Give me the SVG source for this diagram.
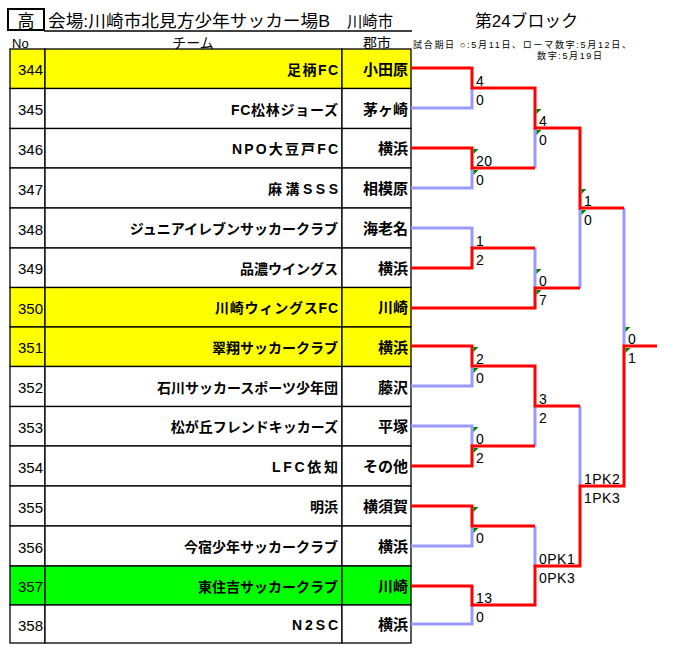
<svg xmlns="http://www.w3.org/2000/svg" width="683" height="663" viewBox="0 0 683 663">
<style>
text{font-family:"Liberation Sans","Noto Sans CJK JP",sans-serif;fill:#000}
.no{font-size:15px;text-anchor:end}
.nm{font-size:14px;font-weight:bold;text-anchor:end}
.ct{font-size:15px;font-weight:bold;text-anchor:end}
.sc{font-size:14px;letter-spacing:0.5px}
.hd{font-size:14px}
.cell{fill:#fff;stroke:#000;stroke-width:1.3}
.y{fill:#ffff00}
.g{fill:#00ff00}
.w{fill:none;stroke:#ff0000;stroke-width:3}
.l{fill:none;stroke:#9999ff;stroke-width:3}
.m{fill:#008000}
</style>
<rect width="683" height="663" fill="#fff"/>
<g id="header">
<rect x="8" y="9" width="36" height="21" fill="none" stroke="#000" stroke-width="2"/>
<text x="26" y="26.5" font-size="17" text-anchor="middle">高</text>
<text x="48" y="27" font-size="17" textLength="282" lengthAdjust="spacingAndGlyphs">会場:川崎市北見方少年サッカー場B</text>
<text x="347" y="27" font-size="16" textLength="46" lengthAdjust="spacingAndGlyphs">川崎市</text>
<line x1="44" y1="31" x2="412" y2="31" stroke="#000" stroke-width="1.5"/>
<text x="475" y="27" font-size="17" textLength="103" lengthAdjust="spacingAndGlyphs">第24ブロック</text>
<text x="12" y="48" font-size="13">No</text>
<text x="193" y="48" class="hd" text-anchor="middle">チーム</text>
<text x="377" y="48" class="hd" text-anchor="middle">郡市</text>
<text x="413" y="47.5" font-size="9" textLength="218" lengthAdjust="spacing">試合期日 ○:5月11日、ローマ数字:5月12日、</text>
<text x="537" y="58.5" font-size="9" textLength="65" lengthAdjust="spacing">数字:5月19日</text>
</g>
<g id="team-344"><rect x="10" y="49" width="35" height="39.5" class="cell y"/><rect x="45" y="49" width="297" height="39.5" class="cell y"/><rect x="342" y="49" width="69" height="39.5" class="cell y"/>
<text x="43" y="75" class="no">344</text><text x="338" y="74.75" class="nm" textLength="51">足柄FC</text><text x="408" y="74.75" class="ct">小田原</text></g>
<g id="team-345"><rect x="10" y="88.5" width="35" height="40" class="cell"/><rect x="45" y="88.5" width="297" height="40" class="cell"/><rect x="342" y="88.5" width="69" height="40" class="cell"/>
<text x="43" y="115" class="no">345</text><text x="338" y="114.5" class="nm" textLength="107">FC松林ジョーズ</text><text x="408" y="114.5" class="ct">茅ヶ崎</text></g>
<g id="team-346"><rect x="10" y="128.5" width="35" height="39.5" class="cell"/><rect x="45" y="128.5" width="297" height="39.5" class="cell"/><rect x="342" y="128.5" width="69" height="39.5" class="cell"/>
<text x="43" y="154.75" class="no">346</text><text x="338" y="154.25" class="nm" textLength="106">NPO大豆戸FC</text><text x="408" y="154.25" class="ct">横浜</text></g>
<g id="team-347"><rect x="10" y="168" width="35" height="40" class="cell"/><rect x="45" y="168" width="297" height="40" class="cell"/><rect x="342" y="168" width="69" height="40" class="cell"/>
<text x="43" y="194.5" class="no">347</text><text x="338" y="194" class="nm" textLength="70">麻溝SSS</text><text x="408" y="194" class="ct">相模原</text></g>
<g id="team-348"><rect x="10" y="208" width="35" height="40" class="cell"/><rect x="45" y="208" width="297" height="40" class="cell"/><rect x="342" y="208" width="69" height="40" class="cell"/>
<text x="43" y="234.5" class="no">348</text><text x="338" y="234" class="nm">ジュニアイレブンサッカークラブ</text><text x="408" y="234" class="ct">海老名</text></g>
<g id="team-349"><rect x="10" y="248" width="35" height="39.5" class="cell"/><rect x="45" y="248" width="297" height="39.5" class="cell"/><rect x="342" y="248" width="69" height="39.5" class="cell"/>
<text x="43" y="274.25" class="no">349</text><text x="338" y="273.75" class="nm">品濃ウイングス</text><text x="408" y="273.75" class="ct">横浜</text></g>
<g id="team-350"><rect x="10" y="287.5" width="35" height="39.5" class="cell y"/><rect x="45" y="287.5" width="297" height="39.5" class="cell y"/><rect x="342" y="287.5" width="69" height="39.5" class="cell y"/>
<text x="43" y="314" class="no">350</text><text x="338" y="313.25" class="nm" textLength="123">川崎ウィングスFC</text><text x="408" y="313.25" class="ct">川崎</text></g>
<g id="team-351"><rect x="10" y="327" width="35" height="39.5" class="cell y"/><rect x="45" y="327" width="297" height="39.5" class="cell y"/><rect x="342" y="327" width="69" height="39.5" class="cell y"/>
<text x="43" y="353.25" class="no">351</text><text x="338" y="352.75" class="nm">翠翔サッカークラブ</text><text x="408" y="352.75" class="ct">横浜</text></g>
<g id="team-352"><rect x="10" y="366.5" width="35" height="40" class="cell"/><rect x="45" y="366.5" width="297" height="40" class="cell"/><rect x="342" y="366.5" width="69" height="40" class="cell"/>
<text x="43" y="393" class="no">352</text><text x="338" y="392.5" class="nm">石川サッカースポーツ少年団</text><text x="408" y="392.5" class="ct">藤沢</text></g>
<g id="team-353"><rect x="10" y="406.5" width="35" height="39.5" class="cell"/><rect x="45" y="406.5" width="297" height="39.5" class="cell"/><rect x="342" y="406.5" width="69" height="39.5" class="cell"/>
<text x="43" y="432.75" class="no">353</text><text x="338" y="432.25" class="nm">松が丘フレンドキッカーズ</text><text x="408" y="432.25" class="ct">平塚</text></g>
<g id="team-354"><rect x="10" y="446" width="35" height="40" class="cell"/><rect x="45" y="446" width="297" height="40" class="cell"/><rect x="342" y="446" width="69" height="40" class="cell"/>
<text x="43" y="472.5" class="no">354</text><text x="338" y="472" class="nm" textLength="66">LFC依知</text><text x="408" y="472" class="ct">その他</text></g>
<g id="team-355"><rect x="10" y="486" width="35" height="40" class="cell"/><rect x="45" y="486" width="297" height="40" class="cell"/><rect x="342" y="486" width="69" height="40" class="cell"/>
<text x="43" y="512.5" class="no">355</text><text x="338" y="512" class="nm">明浜</text><text x="408" y="512" class="ct">横須賀</text></g>
<g id="team-356"><rect x="10" y="526" width="35" height="40" class="cell"/><rect x="45" y="526" width="297" height="40" class="cell"/><rect x="342" y="526" width="69" height="40" class="cell"/>
<text x="43" y="552.5" class="no">356</text><text x="338" y="552" class="nm">今宿少年サッカークラブ</text><text x="408" y="552" class="ct">横浜</text></g>
<g id="team-357"><rect x="10" y="566" width="35" height="39" class="cell g"/><rect x="45" y="566" width="297" height="39" class="cell g"/><rect x="342" y="566" width="69" height="39" class="cell g"/>
<text x="43" y="592" class="no">357</text><text x="338" y="591.5" class="nm">東住吉サッカークラブ</text><text x="408" y="591.5" class="ct">川崎</text></g>
<g id="team-358"><rect x="10" y="605" width="35" height="38" class="cell"/><rect x="45" y="605" width="297" height="38" class="cell"/><rect x="342" y="605" width="69" height="38" class="cell"/>
<text x="43" y="630.5" class="no">358</text><text x="338" y="630" class="nm" textLength="46">N2SC</text><text x="408" y="630" class="ct">横浜</text></g>
<g id="connectors">
<path class="l" d="M411,108H472V88M411,188H472V168M535,168V128M411,228H472V248M535,248V288M580,288V208M624,208V346M411,386H472V366M411,426H472V446M535,446V406M580,406V486M411,546H472V526M535,526V566M411,624H472V605"/>
<path class="w" d="M411,68H472V88H535V128H580V208H624"/>
<path class="w" d="M411,148H472V168H535"/>
<path class="w" d="M411,268H472V248H535"/>
<path class="w" d="M411,308H535V288H580"/>
<path class="w" d="M411,346H472V366H535V406H580"/>
<path class="w" d="M411,466H472V446H535"/>
<path class="w" d="M411,506H472V526H535"/>
<path class="w" d="M411,586H472V605H535V566H580V486H624V346H657"/>
</g>
<g id="scores">
<text class="sc" x="476" y="85.5">4</text><text class="sc" x="476" y="104.5">0</text>
<text class="sc" x="476" y="165.5">20</text><text class="sc" x="476" y="184.5">0</text>
<text class="sc" x="476" y="245.5">1</text><text class="sc" x="476" y="264.5">2</text>
<text class="sc" x="476" y="363.5">2</text><text class="sc" x="476" y="382.5">0</text>
<text class="sc" x="476" y="443.5">0</text><text class="sc" x="476" y="462.5">2</text>
<text class="sc" x="476" y="542.5">0</text>
<text class="sc" x="476" y="602.5">13</text><text class="sc" x="476" y="621.5">0</text>
<text class="sc" x="539" y="125.5">4</text><text class="sc" x="539" y="144.5">0</text>
<text class="sc" x="539" y="285.5">0</text><text class="sc" x="539" y="304.5">7</text>
<text class="sc" x="539" y="403.5">3</text><text class="sc" x="539" y="422.5">2</text>
<text class="sc" x="539" y="563.5">0PK1</text><text class="sc" x="539" y="582.5">0PK3</text>
<text class="sc" x="584" y="205.5">1</text><text class="sc" x="584" y="224.5">0</text>
<text class="sc" x="584" y="483.5">1PK2</text><text class="sc" x="584" y="502.5">1PK3</text>
<text class="sc" x="628" y="343.5">0</text><text class="sc" x="628" y="362.5">1</text>
</g>
<g id="marks">
<polygon class="m" points="473.5,149 478.5,149 473.5,154"/><polygon class="m" points="473.5,170 478.5,170 473.5,175"/>
<polygon class="m" points="473.5,347 478.5,347 473.5,352"/><polygon class="m" points="473.5,368 478.5,368 473.5,373"/>
<polygon class="m" points="473.5,427 478.5,427 473.5,432"/><polygon class="m" points="473.5,448 478.5,448 473.5,453"/>
<polygon class="m" points="473.5,507 478.5,507 473.5,512"/><polygon class="m" points="473.5,528 478.5,528 473.5,533"/>
<polygon class="m" points="536.5,109 541.5,109 536.5,114"/><polygon class="m" points="536.5,130 541.5,130 536.5,135"/>
<polygon class="m" points="536.5,269 541.5,269 536.5,274"/><polygon class="m" points="536.5,290 541.5,290 536.5,295"/>
<polygon class="m" points="581.5,189 586.5,189 581.5,194"/><polygon class="m" points="581.5,210 586.5,210 581.5,215"/>
<polygon class="m" points="625.5,327 630.5,327 625.5,332"/><polygon class="m" points="625.5,348 630.5,348 625.5,353"/>
</g>
</svg>
